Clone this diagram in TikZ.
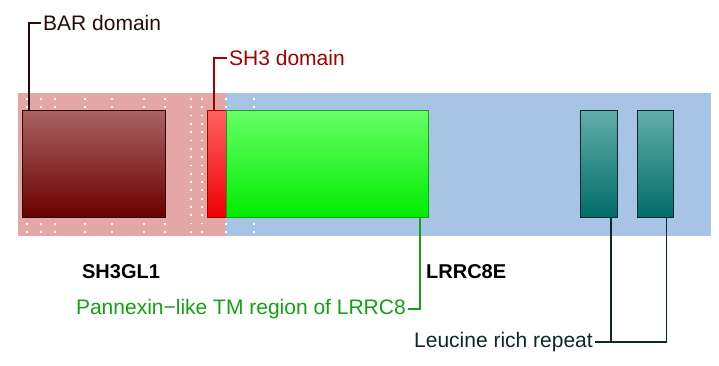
\documentclass[tikz,border=0pt]{standalone}
\usepackage{fontspec}
\setmainfont{Liberation Sans}
\definecolor{pinkbg}{RGB}{229,166,166}
\definecolor{bluebg}{RGB}{168,196,228}
\definecolor{barhi}{RGB}{170,98,98}
\definecolor{barlo}{RGB}{108,0,0}
\definecolor{bardark}{RGB}{40,10,10}
\definecolor{shhi}{RGB}{255,98,98}
\definecolor{shlo}{RGB}{238,0,0}
\definecolor{shdark}{RGB}{160,0,0}
\definecolor{panhi}{RGB}{102,255,102}
\definecolor{panlo}{RGB}{0,236,0}
\definecolor{pandark}{RGB}{20,160,20}
\definecolor{lrrhi}{RGB}{98,174,170}
\definecolor{lrrlo}{RGB}{0,108,104}
\definecolor{lrrdark}{RGB}{12,40,40}
\begin{document}
\begin{tikzpicture}[x=1pt,y=-1pt,
  dom/.style={line width=1pt,inner sep=0pt,anchor=north west,minimum height=107pt},
  lbl/.style={inner xsep=2pt,inner ysep=0pt,font=\fontsize{21}{25}\selectfont},
  gene/.style={lbl,font=\fontsize{20}{24}\selectfont\bfseries},
  link/.style={line width=1.6pt}]
\useasboundingbox (0,0) rectangle (719,366);
\fill[pinkbg] (18,93) rectangle (226,236);
\fill[bluebg] (226,93) rectangle (711,236);

\foreach \x in {27,41,55,85,112,144,165,226,254}{
    \foreach \y in {99,107,224,232}{
        \fill[white] (\x-0.9,\y-0.9) rectangle ++(1.8,1.8);
    }
}
\foreach \x in {191,202}{
    \foreach \k in {0,...,16}{
        \pgfmathsetmacro{\y}{99+8.3*\k}
        \fill[white] (\x-0.9,\y-0.9) rectangle ++(1.8,1.8);
    }
}

\node[dom,draw=bardark,top color=barhi,bottom color=barlo,minimum width=143pt] (bar) at (22,110) {};
\node[dom,draw=shdark,top color=shhi,bottom color=shlo,minimum width=19pt] (sh3) at (207,110) {};
\node[dom,draw=pandark,top color=panhi,bottom color=panlo,minimum width=202pt] (pan) at (226,110) {};
\node[dom,draw=lrrdark,top color=lrrhi,bottom color=lrrlo,minimum width=37pt] (lrrA) at (580,110) {};
\node[dom,draw=lrrdark,top color=lrrhi,bottom color=lrrlo,minimum width=36pt] (lrrB) at (637,110) {};

\node[lbl,anchor=west,text=bardark] (barlbl) at (41,23) {BAR domain};
\node[lbl,anchor=west,text=shdark] (sh3lbl) at (227,58) {SH3 domain};
\node[gene] (geneA) at (121,272) {SH3GL1};
\node[gene,anchor=west] (geneB) at (424,272) {LRRC8E};
\node[lbl,anchor=east,text=pandark] (panlbl) at (408,309) {Pannexin−like TM region of LRRC8};
\node[lbl,anchor=east,text=lrrdark] (lrrlbl) at (595,342) {Leucine rich repeat};

\draw[link,bardark] ([xshift=7pt]bar.north west) |- (barlbl.west);
\draw[link,shdark] ([xshift=7pt]sh3.north west) |- (sh3lbl.west);
\draw[link,pandark] ([xshift=-9pt]pan.south east) |- (panlbl.east);
\draw[link,lrrdark] (lrrlbl.east) -| ([xshift=11pt]lrrB.south);
\draw[link,lrrdark] ([xshift=12pt]lrrA.south) -- ([xshift=12pt]lrrA.south |- lrrlbl.east);
\end{tikzpicture}
\end{document}
